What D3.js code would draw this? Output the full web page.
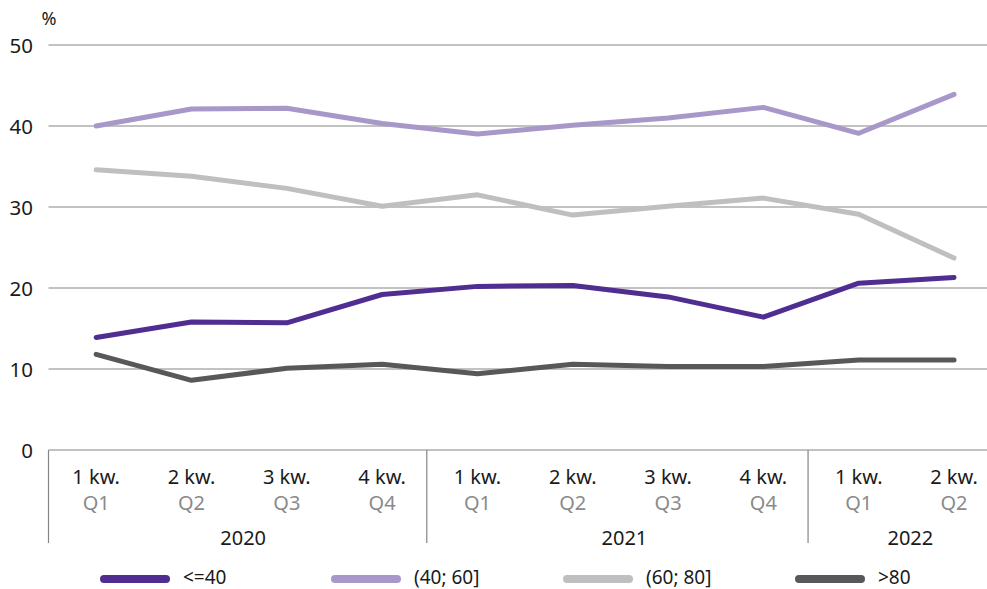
<!DOCTYPE html>
<html>
<head>
    <meta charset="utf-8">
    <script src="https://d3js.org/d3.v7.min.js"></script>
    <style>
        body{ margin:0; background:#fff; }
        svg{ display:block; font-family:"Noto Sans", sans-serif; }
    </style>
</head>
<body>
<svg width="987" height="589"></svg>
<script>
    // quarters, labels and years
    let quarters = ["2020Q1","2020Q2","2020Q3","2020Q4","2021Q1","2021Q2","2021Q3","2021Q4","2022Q1","2022Q2"]
    let plLabels = ["1 kw.","2 kw.","3 kw.","4 kw.","1 kw.","2 kw.","3 kw.","4 kw.","1 kw.","2 kw."]
    let enLabels = ["Q1","Q2","Q3","Q4","Q1","Q2","Q3","Q4","Q1","Q2"]
    let years = ["2020","2021","2022"]
    let yTicks = [0,10,20,30,40,50]

    let seriesNames = ["<=40","(40; 60]","(60; 80]",">80"]
    let colors = ["#4f2d91","#a897c9","#bfbfc1","#58585a"]
    let upTo40   = [13.9,15.8,15.7,19.2,20.2,20.3,18.9,16.4,20.6,21.3]
    let from40   = [40.0,42.1,42.2,40.3,39.0,40.1,41.0,42.3,39.1,43.9]
    let from60   = [34.6,33.8,32.3,30.1,31.5,29.0,30.1,31.1,29.1,23.7]
    let above80  = [11.8,8.6,10.1,10.6,9.4,10.6,10.3,10.3,11.1,11.1]
    let series = [upTo40, from40, from60, above80]

    let svg = d3.select("svg")
    let mLeft = 48.5, mRight = 1001.7, mTop = 45, mBottom = 450

    let x = d3.scaleBand().domain(quarters).range([mLeft, mRight])
    let y = d3.scaleLinear().domain([0, 50]).range([mBottom, mTop])
    let cx = function(q){ return x(q) + x.bandwidth()/2 }

    // gridlines
    svg.append("g").selectAll("line")
        .data(yTicks)
        .enter().append("line")
        .attr("x1", mLeft).attr("x2", 987)
        .attr("y1", d => y(d)).attr("y2", d => y(d))
        .attr("stroke", "#858585").attr("stroke-width", 1)

    svg.append("g").selectAll("text")
        .data(yTicks)
        .enter().append("text")
        .attr("x", 33).attr("y", d => y(d) + 7.5)
        .attr("text-anchor", "end")
        .attr("font-size", 20.5).attr("fill", "#1a1a1a")
        .text(d => d)

    svg.append("text").attr("x", 49).attr("y", 25)
        .attr("text-anchor", "middle").attr("font-size", 18).attr("fill", "#1a1a1a")
        .text("%")

    // group separators (slightly left of band edge, as in the original)
    let groupStarts = years.map(yr => quarters.findIndex(q => q.startsWith(yr)))
    svg.append("g").selectAll("line")
        .data(groupStarts)
        .enter().append("line")
        .attr("x1", d => d === 0 ? x(quarters[d]) : x(quarters[d]) - 3)
        .attr("x2", d => d === 0 ? x(quarters[d]) : x(quarters[d]) - 3)
        .attr("y1", mBottom).attr("y2", 543)
        .attr("stroke", "#858585").attr("stroke-width", 1.2)

    // category labels
    let cats = svg.append("g").selectAll("g")
        .data(quarters)
        .enter().append("g")
    cats.append("text")
        .attr("x", d => cx(d)).attr("y", 484)
        .attr("text-anchor", "middle").attr("font-size", 20).attr("fill", "#1a1a1a")
        .text((d, i) => plLabels[i])
    cats.append("text")
        .attr("x", d => cx(d)).attr("y", 510)
        .attr("text-anchor", "middle").attr("font-size", 20).attr("fill", "#8a8a8a")
        .text((d, i) => enLabels[i])

    svg.append("g").selectAll("text")
        .data(years)
        .enter().append("text")
        .attr("x", function(yr){
            let qs = quarters.filter(q => q.startsWith(yr))
            return (x(qs[0]) + x(qs[qs.length-1]) + x.bandwidth()) / 2 + 4
        })
        .attr("y", 545)
        .attr("text-anchor", "middle").attr("font-size", 20).attr("fill", "#1a1a1a")
        .text(d => d)

    // lines
    let line = d3.line()
        .x((d, i) => cx(quarters[i]))
        .y(d => y(d))
    svg.append("g").selectAll("path")
        .data(series)
        .enter().append("path")
        .attr("d", d => line(d))
        .attr("fill", "none")
        .attr("stroke", (d, i) => colors[i])
        .attr("stroke-width", 5)
        .attr("stroke-linejoin", "round")
        .attr("stroke-linecap", "round")

    // legend
    let legX = [104, 335, 567, 799]
    let leg = svg.append("g").selectAll("g")
        .data(seriesNames)
        .enter().append("g")
        .attr("transform", (d, i) => `translate(${legX[i]},579)`)
    leg.append("line")
        .attr("x1", 0).attr("x2", 62)
        .attr("stroke", (d, i) => colors[i])
        .attr("stroke-width", 8).attr("stroke-linecap", "round")
    leg.append("text")
        .attr("x", 79).attr("y", 5)
        .attr("font-size", 19).attr("fill", "#1a1a1a")
        .text(d => d)
</script>
</body>
</html>
